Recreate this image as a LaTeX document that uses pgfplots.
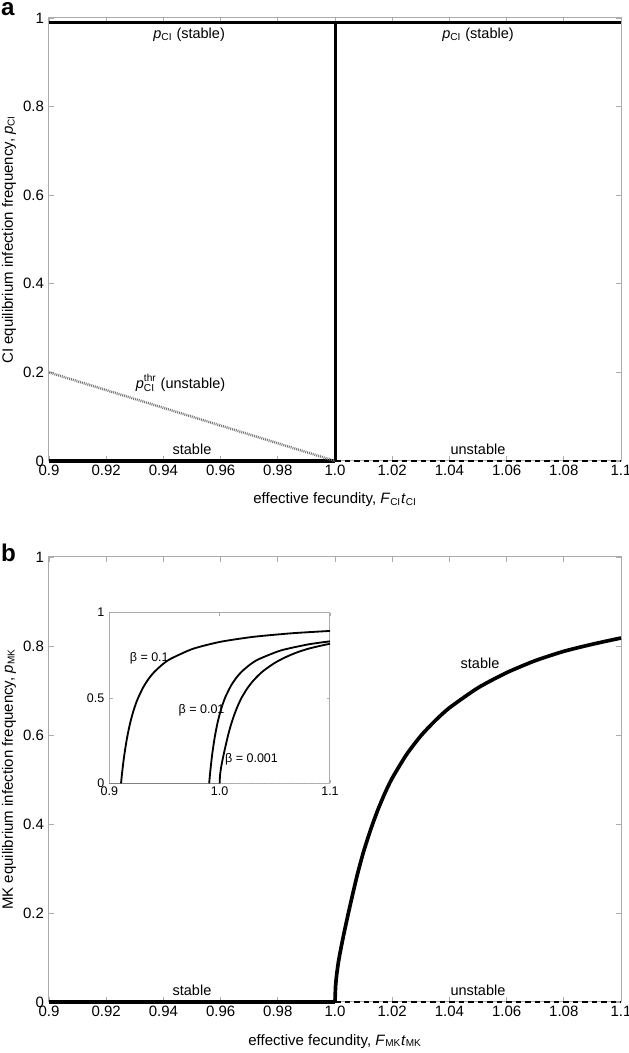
\documentclass[border=0pt]{standalone}
\usepackage{fontspec}
\setmainfont{Liberation Sans}
\usepackage{amsmath}
\usepackage{pgfplots}
\pgfplotsset{compat=1.18}
\pgfplotsset{
  mystyle/.style={
    scale only axis,
    axis line style={gray!65, line width=0.6pt},
    tick style={gray!65, line width=0.5pt},
    major tick length=3pt,
    tick align=inside,
    xmin=0.9, xmax=1.1, ymin=0, ymax=1,
    clip=false,
    /pgf/number format/assume math mode=true,
    tick label style={font=\fontsize{9}{10}\selectfont, black},
    label style={font=\fontsize{9}{10}\selectfont},
  },
  mainx/.style={
    xtick={0.9,0.92,0.94,0.96,0.98,1.0,1.02,1.04,1.06,1.08,1.1},
    xticklabels={0.9,0.92,0.94,0.96,0.98,1.0,1.02,1.04,1.06,1.08,1.1},
    ytick={0,0.2,0.4,0.6,0.8,1},
    yticklabels={0,0.2,0.4,0.6,0.8,1},
    xticklabel style={anchor=north, yshift=1pt},
    yticklabel style={anchor=east, xshift=0.5pt},
    xlabel style={at={(axis description cs:0.5,0)}, anchor=base, yshift=-25.8pt},
    ylabel style={at={(axis description cs:-0.070,0.5)}, anchor=center},
  }
}
\pgfplotstableread{
x y
1.0000 0
1.0002 0.035
1.0006 0.062
1.0012 0.090
1.0020 0.118
1.0030 0.150
1.0040 0.180
1.0050 0.209
1.0065 0.251
1.0080 0.291
1.0100 0.338
1.0125 0.388
1.0150 0.432
1.0175 0.470
1.0200 0.503
1.0250 0.556
1.0300 0.598
1.0350 0.632
1.0400 0.661
1.0500 0.706
1.0600 0.740
1.0700 0.767
1.0800 0.788
1.0900 0.804
1.1000 0.818
}\mkcurve
\pgfplotstableread{
x y
0.9106 0
0.9111 0.0327
0.9116 0.0632
0.9126 0.1185
0.9136 0.1674
0.9156 0.2500
0.9181 0.3318
0.9206 0.3967
0.9231 0.4494
0.9256 0.4932
0.9306 0.5614
0.9356 0.6122
0.9406 0.6516
0.9481 0.6963
0.9556 0.7297
0.9756 0.7879
1.0006 0.8292
1.0306 0.8584
1.0656 0.8794
1.1000 0.8930
}\betaA
\pgfplotstableread{
x y
0.9905 0
0.9910 0.0365
0.9915 0.0702
0.9925 0.1305
0.9935 0.1828
0.9955 0.2692
0.9980 0.3525
1.0005 0.4170
1.0030 0.4684
1.0055 0.5104
1.0105 0.5748
1.0155 0.6218
1.0205 0.6577
1.0280 0.6980
1.0355 0.7277
1.0555 0.7787
1.0805 0.8144
1.1000 0.8320
}\betaB
\begin{document}
\begin{tikzpicture}
\useasboundingbox (0pt,0pt) rectangle (377.4pt,631.8pt);
\node[anchor=base west, font=\fontsize{14.5}{15}\selectfont\bfseries, inner sep=0pt] at (0.5pt,622.2pt) {a};
\node[anchor=base west, font=\fontsize{14.5}{15}\selectfont\bfseries, inner sep=0pt] at (0.5pt,294.6pt) {b};
% ---------- panel a ----------
\begin{axis}[mystyle, mainx,
  at={(29.4pt,355.2pt)}, anchor=south west, width=343.2pt, height=265.8pt,
  xlabel={effective fecundity, \textit{F}$_{\text{CI}}$\textit{t}$_{\text{CI}}$},
  ylabel={CI equilibrium infection frequency, \textit{p}$_{\text{CI}}$},
]
\addplot[black, line width=2pt] coordinates {(0.9,0.99) (1.1,0.99)};
\addplot[black, line width=1.8pt] coordinates {(1.0,0) (1.0,0.99)};
\addplot[black, line width=2pt] coordinates {(0.9,0) (1.0,0)};
\addplot[black, line width=1.6pt, dash pattern=on 3.5pt off 2.2pt] coordinates {(1.0,0) (1.1,0)};
\addplot[black!55, line width=1.5pt, dash pattern=on 0.55pt off 0.6pt] coordinates {(0.9,0.2) (1.0,0)};
\node[font=\fontsize{8.7}{10}\selectfont] at (axis cs:0.949,0.962) {\textit{p}$_{\text{CI}}$ (stable)};
\node[font=\fontsize{8.7}{10}\selectfont] at (axis cs:1.050,0.962) {\textit{p}$_{\text{CI}}$ (stable)};
\node[font=\fontsize{8.7}{10}\selectfont] at (axis cs:0.946,0.176) {\textit{p}$^{\text{thr}}_{\text{CI}}$ (unstable)};
\node[font=\fontsize{8.7}{10}\selectfont] at (axis cs:0.950,0.027) {stable};
\node[font=\fontsize{8.7}{10}\selectfont] at (axis cs:1.050,0.027) {unstable};
\end{axis}
% ---------- panel b ----------
\begin{axis}[mystyle, mainx,
  at={(29.4pt,30.6pt)}, anchor=south west, width=343.2pt, height=267pt,
  xlabel={effective fecundity, \textit{F}$_{\text{MK}}$\textit{t}$_{\text{MK}}$},
  ylabel={MK equilibrium infection frequency, \textit{p}$_{\text{MK}}$},
]
\addplot[black, line width=2pt] coordinates {(0.9,0) (1.0,0)};
\addplot[black, line width=1.6pt, dash pattern=on 3.5pt off 2.2pt] coordinates {(1.0,0) (1.1,0)};
\addplot[black, line width=2.2pt, smooth, tension=0.4] table {\mkcurve};
\node[font=\fontsize{8.7}{10}\selectfont] at (axis cs:1.0507,0.762) {stable};
\node[font=\fontsize{8.7}{10}\selectfont] at (axis cs:0.950,0.027) {stable};
\node[font=\fontsize{8.7}{10}\selectfont] at (axis cs:1.050,0.027) {unstable};
\end{axis}
% ---------- inset ----------
\begin{axis}[mystyle,
  at={(65.6pt,161.8pt)}, anchor=south west, width=132.4pt, height=102.4pt,
  xtick={0.9,1.0,1.1}, xticklabels={0.9,1.0,1.1},
  ytick={0,0.5,1}, yticklabels={0,0.5,1},
  tick label style={font=\fontsize{7.5}{8}\selectfont, black},
  xticklabel style={anchor=north, yshift=1.5pt},
  yticklabel style={anchor=east, xshift=0.5pt},
  major tick length=2pt,
]
\addplot[gray, line width=0.9pt] coordinates {(0.9,0) (1.0,0)};
\addplot[gray!60, line width=0.9pt, dash pattern=on 2.5pt off 1.5pt] coordinates {(1.0,0) (1.1,0)};
\addplot[black, line width=1.1pt, smooth, tension=0.4] table {\betaA};
\addplot[black, line width=1.1pt, smooth, tension=0.4] table {\betaB};
\addplot[black, line width=1.1pt, smooth, tension=0.4] table {\mkcurve};
\node[font=\fontsize{7.5}{8}\selectfont] at (axis cs:0.9362,0.731) {β = 0.1};
\node[font=\fontsize{7.5}{8}\selectfont] at (axis cs:0.9836,0.429) {β = 0.01};
\node[font=\fontsize{7.5}{8}\selectfont] at (axis cs:1.0289,0.140) {β = 0.001};
\end{axis}
\end{tikzpicture}
\end{document}
